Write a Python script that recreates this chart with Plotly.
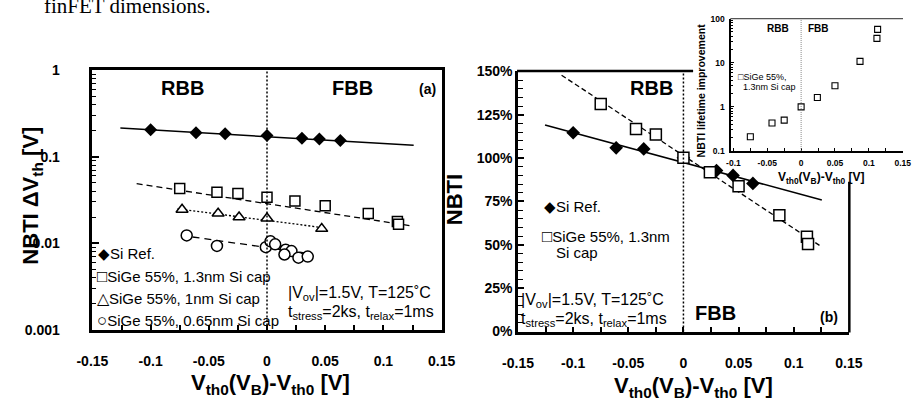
import plotly.graph_objects as go

W, H = 917, 400
FONT = "Liberation Sans"


def px(x):
    return x / W


def py(y):
    return 1 - y / H


# ---------------- data ----------------
# Panel (a): NBTI dVth [V] (log) vs Vth0(VB)-Vth0 [V]
si_x = [-0.100, -0.061, -0.036, 0.000, 0.030, 0.045, 0.063]
si_a = [0.205, 0.190, 0.185, 0.176, 0.164, 0.161, 0.154]
sq_x = [-0.075, -0.043, -0.025, 0.000, 0.024, 0.050, 0.087, 0.112, 0.113]
sq_a = [0.0430, 0.0388, 0.0376, 0.0341, 0.0308, 0.0271, 0.0221, 0.0178, 0.0166]
tri_x = [-0.073, -0.042, -0.024, 0.000, 0.047]
tri_a = [0.0245, 0.0221, 0.0200, 0.0194, 0.0147]
circ_x = [-0.069, -0.043, -0.001, 0.003, 0.007, 0.016, 0.021, 0.015, 0.027, 0.035]
circ_a = [0.0123, 0.0093, 0.0090, 0.0105, 0.0097, 0.0084, 0.0081, 0.0074, 0.0068, 0.0070]

# fitted trend lines (end points) for panel (a)
si_fit_x = [-0.126, 0.126]
si_fit_a = [0.215, 0.136]
sq_fit_x = [-0.112, 0.125]
sq_fit_a = [0.0489, 0.0158]
tri_fit_x = [-0.077, 0.047]
tri_fit_a = [0.0250, 0.0152]
circ_fit_x = [-0.064, 0.036]
circ_fit_a = [0.0118, 0.0076]

# Panel (b): normalised NBTI
si_b = [1.146, 1.059, 1.053, 1.002, 0.928, 0.900, 0.854]
sq_b = [1.312, 1.168, 1.136, 1.002, 0.919, 0.837, 0.671, 0.546, 0.504]
si_fit_b_x = [-0.1255, 0.1255]
si_fit_b = [1.191, 0.758]
sq_fit_b_x = [-0.1105, 0.124]
sq_fit_b = [1.478, 0.494]

# Inset: NBTI lifetime improvement
ins_y = [0.21, 0.43, 0.50, 1.0, 1.63, 3.0, 10.7, 35.5, 56.8]

# ticks
x_ticks = [-0.15, -0.1, -0.05, 0, 0.05, 0.1, 0.15]
x_ticklabels = ["-0.15", "-0.1", "-0.05", "0", "0.05", "0.1", "0.15"]
ya_ticks = [0.001, 0.01, 0.1, 1]
ya_ticklabels = ["0.001", "0.01", "0.1", "1"]
yb_ticks = [0, 0.25, 0.5, 0.75, 1.0, 1.25, 1.5]
yb_ticklabels = ["0%", "25%", "50%", "75%", "100%", "125%", "150%"]
xi_ticks = [-0.1, -0.05, 0, 0.05, 0.1, 0.15]
xi_ticklabels = ["-0.1", "-0.05", "0", "0.05", "0.1", "0.15"]
yi_ticks = [0.1, 1, 10, 100]
yi_ticklabels = ["0.1", "1", "10", "100"]

fig = go.Figure()


def line(x, y, xa, ya, dash, width=1.5):
    fig.add_trace(go.Scatter(x=x, y=y, mode="lines", xaxis=xa, yaxis=ya,
                             line=dict(color="black", width=width, dash=dash),
                             hoverinfo="skip"))


def marks(x, y, xa, ya, symbol, size, filled=False, lw=1.5):
    fig.add_trace(go.Scatter(
        x=x, y=y, mode="markers", xaxis=xa, yaxis=ya,
        marker=dict(symbol=symbol, size=size,
                    color="black" if filled else "white",
                    line=dict(color="black", width=lw if not filled else 0))))


# panel a
line(si_fit_x, si_fit_a, "x", "y", "solid")
line(sq_fit_x, sq_fit_a, "x", "y", "6px,4px", 1.3)
line(tri_fit_x, tri_fit_a, "x", "y", "2px,2px", 1.3)
line(circ_fit_x, circ_fit_a, "x", "y", "7px,5px", 1.3)
marks(si_x, si_a, "x", "y", "diamond", 10, filled=True)
marks(sq_x, sq_a, "x", "y", "square", 10)
marks(tri_x, tri_a, "x", "y", "triangle-up", 10.5)
marks(circ_x, circ_a, "x", "y", "circle", 11)

# panel b
line(si_fit_b_x, si_fit_b, "x2", "y2", "solid")
line(sq_fit_b_x, sq_fit_b, "x2", "y2", "5px,3px", 1.3)
marks(si_x, si_b, "x2", "y2", "diamond", 10.5, filled=True)
marks(sq_x, sq_b, "x2", "y2", "square", 11)

# inset
marks(sq_x, ins_y, "x3", "y3", "square", 6, lw=1.1)

tick_common = dict(showline=True, linecolor="black", ticks="inside",
                   tickcolor="black", showgrid=False, zeroline=False)
big_font = dict(family=FONT, size=14, color="black", weight="bold")
small_font = dict(family=FONT, size=8.5, color="black", weight="bold")

layout_axes = dict(
    xaxis=dict(domain=[px(79), px(440)], range=[-0.15, 0.15], anchor="y",
               tickmode="array", tickvals=x_ticks, ticktext=x_ticklabels,
               mirror=True, linewidth=2.5, ticklen=5, tickwidth=1.5,
               minor=dict(tickmode="linear", tick0=0, dtick=0.025, ticks="inside",
                          ticklen=5, tickwidth=1.5, tickcolor="black"),
               tickfont=big_font, ticklabelstandoff=17, **tick_common),
    yaxis=dict(domain=[py(335), py(65)], type="log", range=[-3, 0], anchor="x",
               tickmode="array", tickvals=ya_ticks, ticktext=ya_ticklabels,
               mirror=True, linewidth=2.5, ticklen=7, tickwidth=1.5,
               minor=dict(dtick="D1", ticks="inside", ticklen=4, tickwidth=1,
                          tickcolor="black"),
               tickfont=big_font, ticklabelstandoff=27, **tick_common),
    xaxis2=dict(domain=[px(519), px(861)], range=[-0.15, 0.15], anchor="y2",
                tickmode="array", tickvals=x_ticks, ticktext=x_ticklabels,
                mirror=False, linewidth=2.5, ticklen=5, tickwidth=1.5,
                minor=dict(tickmode="linear", tick0=0, dtick=0.025, ticks="inside",
                           ticklen=5, tickwidth=1.5, tickcolor="black"),
                tickfont=big_font, ticklabelstandoff=17, **tick_common),
    yaxis2=dict(domain=[py(337), py(66)], range=[0, 1.5], anchor="x2",
                tickmode="array", tickvals=yb_ticks, ticktext=yb_ticklabels,
                mirror=False, linewidth=2.5, ticklen=6, tickwidth=1.5,
                minor=dict(tickmode="linear", tick0=0, dtick=0.05, ticks="inside",
                           ticklen=5, tickwidth=1.2, tickcolor="black"),
                tickfont=big_font, ticklabelstandoff=0, **tick_common),
    xaxis3=dict(domain=[px(739.3), 1.0], range=[-0.1034, 0.1505], anchor="y3",
                tickmode="array", tickvals=xi_ticks, ticktext=xi_ticklabels,
                mirror=False, linewidth=1.5, ticklen=3, tickwidth=1,
                minor=dict(tickmode="linear", tick0=0, dtick=0.025, ticks="inside",
                           ticklen=3, tickwidth=1, tickcolor="black"),
                tickfont=small_font, ticklabelstandoff=3, **tick_common),
    yaxis3=dict(domain=[py(149), py(11)], type="log", range=[-1, 2], anchor="x3",
                tickmode="array", tickvals=yi_ticks, ticktext=yi_ticklabels,
                mirror=False, linewidth=1.5, ticklen=3, tickwidth=1,
                minor=dict(dtick="D1", ticks="inside", ticklen=2, tickwidth=1,
                           tickcolor="black"),
                tickfont=small_font, ticklabelstandoff=3, **tick_common),
)

shapes = [
    # zero lines
    dict(type="line", xref="x", yref="y domain", x0=0, x1=0, y0=0, y1=1,
         line=dict(color="black", width=1.5, dash="2px,2px")),
    dict(type="line", xref="x2", yref="y2 domain", x0=0, x1=0, y0=0, y1=1,
         line=dict(color="black", width=1.5, dash="2px,2px")),
    dict(type="line", xref="x3", yref="y3 domain", x0=0, x1=0, y0=0, y1=1,
         line=dict(color="#888888", width=1, dash="1px,1px")),
    # panel b frame parts not hidden by the inset
    dict(type="line", xref="paper", yref="paper", x0=px(518), x1=px(700),
         y0=py(65.5), y1=py(65.5), line=dict(color="black", width=2.5)),
    dict(type="line", xref="paper", yref="paper", x0=px(861.5), x1=px(861.5),
         y0=py(181), y1=py(338), line=dict(color="black", width=2.5)),
    # inset top border
    dict(type="line", xref="paper", yref="paper", x0=px(738.5), x1=1.0,
         y0=py(11), y1=py(11), line=dict(color="#555555", width=1.2)),
]

annotations = []


def ann(text, x, y, size, bold=False, xanchor="center", yanchor="middle",
        family=FONT, angle=0, color="black"):
    annotations.append(dict(
        text=text, x=px(x), y=py(y), xref="paper", yref="paper",
        xanchor=xanchor, yanchor=yanchor, showarrow=False, textangle=angle,
        font=dict(family=family, size=size, color=color,
                  weight="bold" if bold else "normal")))


def sym(glyph, size=17):
    return "<span style='font-size:%dpx'>%s</span>" % (size, glyph)


# page text above the figure
ann("finFET dimensions.", 27, -17, 21, family="Liberation Serif",
    xanchor="left", yanchor="top")

# panel a
ann("RBB", 172, 83, 20, bold=True)
ann("FBB", 348, 83, 20, bold=True)
ann("(a)", 425, 84, 14, bold=True)
ann(sym("◆", 15) + "Si Ref.", 83, 256, 15, xanchor="left")
ann(sym("□") + "SiGe 55%, 1.3nm Si cap", 82, 280, 15, xanchor="left")
ann(sym("△", 16) + "SiGe 55%, 1nm Si cap", 82, 303, 15, xanchor="left")
ann(sym("○") + "SiGe 55%, 0.65nm Si cap", 82, 326, 15, xanchor="left")
ann("|V<sub>ov</sub>|=1.5V, T=125˚C", 279, 297, 16, xanchor="left")
ann("t<sub>stress</sub>=2ks, t<sub>relax</sub>=1ms", 279, 317, 16, xanchor="left")
ann("NBTI ΔV<sub>th</sub> [V]", 17, 195, 22, bold=True, angle=-90)
ann("V<sub>th0</sub>(V<sub>B</sub>)-V<sub>th0</sub> [V]", 263, 392, 22, bold=True)

# panel b
ann("RBB", 657, 83, 20, bold=True)
ann("FBB", 723, 318, 20, bold=True)
ann("(b)", 840, 322, 14, bold=True)
ann(sym("◆", 15) + "Si Ref.", 544, 207, 15, xanchor="left")
ann(sym("□") + "SiGe 55%, 1.3nm", 542, 238, 15, xanchor="left")
ann("Si cap", 556, 255, 15, xanchor="left")
ann("|V<sub>ov</sub>|=1.5V, T=125˚C", 520, 305, 16, xanchor="left")
ann("t<sub>stress</sub>=2ks, t<sub>relax</sub>=1ms", 520, 324, 16, xanchor="left")
ann("NBTI", 453, 200, 22, bold=True, angle=-90)
ann("V<sub>th0</sub>(V<sub>B</sub>)-V<sub>th0</sub> [V]", 700, 395, 22, bold=True)

# inset
ann("RBB", 788, 21, 10, bold=True)
ann("FBB", 830, 21, 10, bold=True)
ann("□SiGe 55%,", 744, 72, 9, xanchor="left")
ann("1.3nm Si cap", 750, 82, 9, xanchor="left")
ann("NBTI lifetime improvement", 708, 86, 10.5, bold=True, angle=-90)
ann("V<sub>th0</sub>(V<sub>B</sub>)-V<sub>th0</sub> [V]", 833, 177, 12, bold=True)

fig.update_layout(
    width=W, height=H, margin=dict(l=0, r=0, t=0, b=0),
    paper_bgcolor="white", plot_bgcolor="white", showlegend=False,
    font=dict(family=FONT, color="black"),
    shapes=shapes, annotations=annotations, **layout_axes)

fig.write_html("out.html")
